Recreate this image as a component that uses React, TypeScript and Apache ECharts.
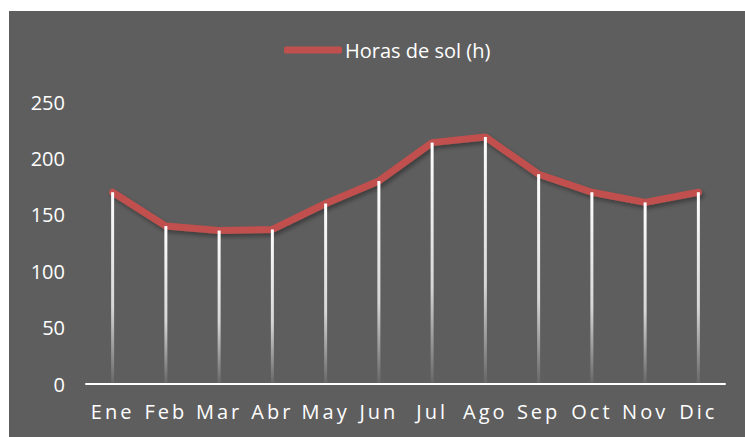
import React, { useEffect, useRef } from "react";
import * as echarts from "echarts";

const months = ["Ene", "Feb", "Mar", "Abr", "May", "Jun", "Jul", "Ago", "Sep", "Oct", "Nov", "Dic"];
const sunHours = [170, 140, 136, 137, 160, 180, 214, 219, 186, 170, 161, 170];
const seriesName = "Horas de sol (h)";
const yTicks = { min: 0, max: 250, interval: 50 };

const FONT = "'Open Sans', 'Noto Sans', sans-serif";

export default function App() {
  const ref = useRef<HTMLDivElement>(null);

  useEffect(() => {
    document.body.style.margin = "0";
    if (!ref.current) return;
    const el = ref.current;
    const chart = echarts.init(el, null, { renderer: "svg" });
    const spaceLabels = () => {
      el.querySelectorAll("text").forEach((t) => {
        if (months.includes((t.textContent || "").trim())) {
          (t as SVGTextElement).style.letterSpacing = "3px";
        }
      });
    };
    chart.on("finished", spaceLabels);
    chart.setOption({
      animation: false,
      backgroundColor: "#5e5e5e",
      textStyle: { fontFamily: FONT },
      legend: {
        data: [{ name: seriesName, icon: "roundRect" }],
        left: 270,
        top: 24,
        itemWidth: 58,
        itemHeight: 7,
        itemGap: 10,
        textStyle: { color: "#ffffff", fontSize: 20, fontFamily: FONT, padding: [0, 0, 0, -2] },
      },
      grid: { left: 77, right: 20, top: 91, bottom: 53 },
      xAxis: {
        type: "category",
        data: months,
        boundaryGap: true,
        axisLine: { show: true, lineStyle: { color: "#ffffff", width: 2 } },
        axisTick: { show: false },
        axisLabel: { color: "#ffffff", fontSize: 20, margin: 17, fontFamily: FONT },
      },
      yAxis: {
        type: "value",
        min: yTicks.min,
        max: yTicks.max,
        interval: yTicks.interval,
        axisLine: { show: false },
        axisTick: { show: false },
        splitLine: { show: false },
        axisLabel: { color: "#ffffff", fontSize: 20, margin: 21, fontFamily: FONT },
      },
      series: [
        {
          name: seriesName,
          type: "line",
          data: sunHours,
          symbol: "none",
          z: 2,
          lineStyle: {
            color: "#c0504d",
            width: 7,
            cap: "round",
            join: "round",
            shadowColor: "rgba(0,0,0,0.35)",
            shadowBlur: 4,
            shadowOffsetX: 2,
            shadowOffsetY: 3,
          },
          itemStyle: { color: "#c0504d" },
        },
        {
          name: "drop",
          type: "bar",
          data: sunHours,
          barWidth: 3,
          z: 3,
          silent: true,
          itemStyle: {
            color: new echarts.graphic.LinearGradient(0, 0, 0, 1, [
              { offset: 0, color: "rgba(255,255,255,1)" },
              { offset: 0.6, color: "rgba(255,255,255,0.75)" },
              { offset: 1, color: "rgba(255,255,255,0.05)" },
            ]),
          },
        },
      ],
    });
    spaceLabels();
    return () => chart.dispose();
  }, []);

  return (
    <div style={{ position: "relative", width: 745, height: 437, background: "#ffffff" }}>
      <div ref={ref} style={{ position: "absolute", left: 9, top: 11, width: 736, height: 426 }} />
    </div>
  );
}
